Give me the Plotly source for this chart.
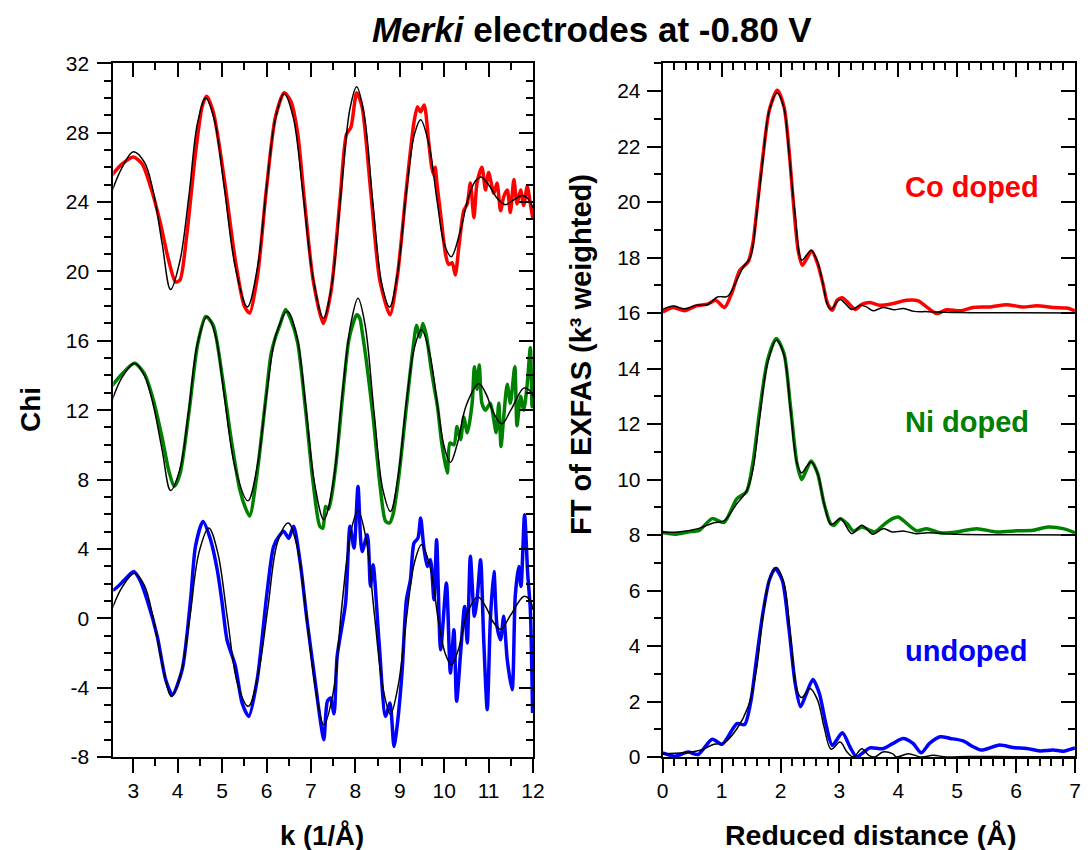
import plotly.graph_objects as go

# ---------------- Left panel: chi(k) ----------------
# Co doped (red) data and fit
k_co = [2.50, 2.75, 3.00, 3.20, 3.40, 3.60, 3.80, 3.95, 4.05, 4.20, 4.40, 4.55, 4.65, 4.80, 5.05, 5.30,
        5.50, 5.62, 5.80, 6.00, 6.20, 6.40, 6.55, 6.70, 6.85, 7.05, 7.28, 7.45, 7.65, 7.80, 7.90, 8.03,
        8.15, 8.35, 8.55, 8.78, 8.95, 9.15, 9.32, 9.40, 9.47, 9.55, 9.65, 9.72, 9.78, 9.80, 9.84, 9.92,
        10.03, 10.10, 10.18, 10.25, 10.33, 10.44, 10.52, 10.59, 10.67, 10.74, 10.85, 10.93, 11.00, 11.12,
        11.19, 11.27, 11.34, 11.42, 11.49, 11.57, 11.64, 11.72, 11.79, 11.87, 11.94, 12.00]
chi_co = [25.5, 26.2, 26.6, 26.2, 24.8, 22.9, 20.6, 19.4, 19.5, 22.0, 26.8, 29.5, 30.1, 29.2, 25.3, 20.6,
          18.0, 17.6, 19.8, 24.8, 28.9, 30.3, 29.8, 28.0, 24.2, 19.5, 17.0, 18.8, 24.0, 27.9, 28.3, 30.3,
          29.5, 24.5, 19.5, 17.5, 19.8, 24.8, 28.6, 29.5, 29.2, 29.6, 27.5, 26.0, 25.5, 26.0, 25.0, 23.3,
          21.0, 20.4, 20.5, 19.8, 21.4, 23.5, 23.9, 25.1, 23.1, 25.1, 26.0, 24.7, 25.7, 24.5,
          25.1, 23.5, 24.3, 24.7, 23.4, 25.3, 23.9, 24.7, 23.8, 24.9, 23.9, 23.0]
k_co_fit = [2.50, 2.75, 3.00, 3.25, 3.45, 3.65, 3.84, 4.05, 4.25, 4.45, 4.63, 4.82, 5.05, 5.30, 5.57, 5.80,
            6.00, 6.20, 6.40, 6.60, 6.82, 7.05, 7.28, 7.48, 7.68, 7.88, 8.03, 8.20, 8.40, 8.60, 8.77, 8.95,
            9.15, 9.33, 9.47, 9.65, 9.85, 10.00, 10.16, 10.35, 10.55, 10.70, 10.83, 11.00, 11.20, 11.38,
            11.55, 11.76, 11.90, 12.00]
chi_co_fit = [24.5, 26.0, 26.9, 26.3, 24.6, 21.6, 18.95, 20.6, 24.3, 28.6, 30.0, 28.8, 24.8, 20.2, 17.95, 20.3,
              24.8, 28.8, 30.25, 28.9, 24.5, 19.6, 17.3, 19.4, 24.6, 29.4, 30.65, 29.0, 23.8, 19.2, 17.95, 19.9,
              24.6, 27.9, 28.75, 27.4, 23.9, 21.6, 20.85, 22.2, 24.3, 25.2, 25.45, 25.0, 24.2, 23.85,
              24.1, 24.37, 24.15, 23.65]

# Ni doped (green) data and fit
k_ni = [2.50, 2.75, 3.03, 3.25, 3.45, 3.65, 3.80, 3.92, 4.05, 4.25, 4.45, 4.63, 4.80, 5.00, 5.20, 5.40,
        5.52, 5.62, 5.78, 5.98, 6.10, 6.20, 6.30, 6.43, 6.55, 6.70, 6.88, 7.05, 7.20, 7.27, 7.33, 7.40,
        7.55, 7.72, 7.85, 7.95, 8.03, 8.10, 8.16, 8.25, 8.40, 8.55, 8.68, 8.77, 8.85, 8.97, 9.15, 9.30,
        9.38, 9.45, 9.52, 9.60, 9.70, 9.77, 9.85, 9.95, 10.07, 10.13, 10.22, 10.29, 10.37, 10.44, 10.52,
        10.63, 10.68, 10.74, 10.79, 10.85, 10.93, 11.04, 11.12, 11.17, 11.23, 11.28, 11.34, 11.42, 11.49,
        11.59, 11.64, 11.72, 11.79, 11.87, 11.94, 11.98, 12.00]
chi_ni = [13.33, 14.1, 14.7, 14.1, 12.6, 10.4, 8.5, 7.6, 8.3, 11.8, 15.8, 17.4, 16.9, 14.0, 10.4, 7.4,
          6.4, 5.9, 8.2, 12.6, 15.2, 16.2, 16.9, 17.8, 17.2, 15.9, 12.0, 7.8, 5.3, 5.2, 6.45, 6.3,
          8.6, 13.0, 16.0, 17.0, 17.5, 17.3, 16.4, 14.8, 11.6, 7.8, 5.6, 5.5, 6.0, 8.0, 12.2, 15.6,
          16.9, 16.2, 17.0, 16.3, 14.5, 13.4, 12.2, 10.0, 8.37, 10.1, 10.0, 11.06, 10.3, 11.6, 10.7,
          12.4, 14.5, 13.2, 14.6, 12.4, 12.0, 12.4, 11.4, 10.7, 12.4, 9.9, 11.6, 13.5, 12.4,
          14.5, 11.1, 12.8, 12.0, 13.5, 15.6, 12.2, 12.8]
k_ni_fit = [2.50, 2.75, 3.03, 3.25, 3.45, 3.65, 3.84, 4.05, 4.25, 4.45, 4.67, 4.85, 5.05, 5.30, 5.58, 5.80,
            6.00, 6.22, 6.47, 6.68, 6.88, 7.08, 7.29, 7.50, 7.70, 7.90, 8.06, 8.22, 8.42, 8.62, 8.79, 8.97,
            9.15, 9.33, 9.49, 9.67, 9.87, 10.00, 10.14, 10.30, 10.50, 10.78, 10.95, 11.10, 11.30, 11.50,
            11.79, 11.92, 12.00]
chi_ni_fit = [12.4, 13.9, 14.7, 14.0, 12.3, 9.7, 7.37, 8.6, 12.0, 15.9, 17.4, 16.3, 12.8, 8.6, 6.77, 8.9,
              12.9, 16.4, 17.69, 16.3, 12.3, 7.8, 5.68, 7.8, 12.8, 17.0, 18.45, 16.9, 11.9, 7.4, 6.16, 8.3,
              12.5, 15.6, 16.63, 15.3, 11.9, 9.9, 8.98, 10.1, 12.3, 13.52, 12.9, 11.9, 11.21, 12.0,
              13.27, 13.15, 12.79]

# undoped (blue) data and fit
k_un = [2.50, 2.56, 2.80, 3.01, 3.15, 3.31, 3.54, 3.73, 3.88, 4.10, 4.29, 4.40, 4.57, 4.74, 4.89, 5.00,
        5.11, 5.30, 5.45, 5.60, 5.79, 6.01, 6.16, 6.30, 6.39, 6.50, 6.61, 6.76, 6.91, 7.06, 7.22, 7.29,
        7.37, 7.44, 7.52, 7.59, 7.78, 7.88, 7.97, 8.06, 8.15, 8.27, 8.34, 8.40, 8.53, 8.68, 8.78, 8.87,
        8.94, 9.05, 9.15, 9.24, 9.32, 9.41, 9.47, 9.54, 9.62, 9.69, 9.77, 9.83, 9.92, 10.05, 10.14,
        10.22, 10.28, 10.37, 10.46, 10.52, 10.59, 10.68, 10.74, 10.82, 10.89, 10.97, 11.04, 11.12,
        11.19, 11.27, 11.34, 11.42, 11.53, 11.60, 11.68, 11.73, 11.81, 11.88, 11.94, 11.99]
chi_un = [1.68, 1.64, 2.2, 2.7, 2.2, 1.07, -1.04, -3.54, -4.41, -2.97, 1.07, 4.14, 5.58, 4.53, 2.8, 0.9,
          -1.24, -2.77, -4.89, -5.66, -3.54, 1.45, 4.14, 4.8, 5.01, 4.62, 5.3, 3.18, -0.08, -2.97, -6.04, -7.0,
          -4.79, -4.6, -5.5, -2.2, 0.88, 5.3, 4.05, 7.6, 3.85, 4.81, 1.84, 3.09, -1.24, -5.66, -4.89, -7.39,
          -6.23, -3.16, 1.07, 2.22, 4.33, 4.62, 5.78, 4.14, 2.99, 3.37, 1.07, 4.53, -1.81, 2.03, -3.16,
          -0.66, -4.79, -2.0, 0.68, -1.43, 3.57, 0.11, 1.07, 3.37, -1.24, -5.27, -0.08, 2.7,
          -0.47, -1.24, 0.11, -2.39, -4.12, 1.26, 2.99, 1.84, 5.97, 2.6, 0.49, -5.46]
k_un_fit = [2.50, 2.75, 3.03, 3.25, 3.45, 3.65, 3.86, 4.07, 4.27, 4.48, 4.70, 4.90, 5.12, 5.35, 5.59, 5.82,
            6.03, 6.25, 6.49, 6.70, 6.90, 7.10, 7.29, 7.50, 7.70, 7.90, 8.06, 8.24, 8.43, 8.62, 8.79, 8.97,
            9.15, 9.33, 9.49, 9.68, 9.88, 10.02, 10.16, 10.32, 10.52, 10.76, 10.95, 11.10, 11.27, 11.50,
            11.79, 11.92, 12.00]
chi_un_fit = [0.39, 1.8, 2.6, 1.9, 0.0, -2.6, -4.51, -3.2, 0.0, 3.8, 5.2, 3.8, 0.0, -3.8, -5.08, -3.1,
              0.6, 4.4, 5.49, 4.0, 0.1, -4.0, -6.14, -4.3, 0.8, 5.0, 6.22, 4.6, 0.2, -4.0, -5.53, -3.8,
              0.0, 3.2, 4.24, 3.0, -0.3, -2.0, -2.68, -1.8, 0.3, 1.22, 0.6, -0.2, -0.63, 0.2,
              1.26, 1.1, 0.49]

# ---------------- Right panel: FT magnitude ----------------
r_co = [0.00, 0.18, 0.37, 0.57, 0.76, 0.90, 1.05, 1.17, 1.31, 1.45, 1.53, 1.61, 1.70, 1.81, 1.945, 2.06,
        2.14, 2.22, 2.30, 2.37, 2.46, 2.53, 2.63, 2.72, 2.80, 2.88, 2.96, 3.05, 3.16, 3.27, 3.38, 3.52,
        3.68, 3.90, 4.14, 4.34, 4.48, 4.65, 4.82, 5.05, 5.27, 5.55, 5.84, 6.12, 6.35, 6.63, 6.86, 7.00]
ft_co = [16.04, 16.2, 16.08, 16.26, 16.32, 16.46, 16.2, 16.7, 17.54, 17.84, 18.5, 19.95, 21.63, 23.31, 24.03, 23.43,
         21.99, 19.95, 18.26, 17.72, 18.02, 18.24, 17.78, 17.06, 16.34, 16.1, 16.46, 16.55, 16.34, 16.13, 16.31, 16.38,
         16.28, 16.34, 16.46, 16.44, 16.22, 15.98, 16.12, 16.08, 16.2, 16.22, 16.3, 16.22, 16.26, 16.2, 16.18, 16.08]
r_co_fit = [0.00, 0.18, 0.37, 0.57, 0.76, 0.93, 1.10, 1.23, 1.37, 1.49, 1.59, 1.70, 1.81, 1.945, 2.06, 2.14,
            2.24, 2.36, 2.44, 2.52, 2.63, 2.72, 2.79, 2.85, 3.01, 3.10, 3.21, 3.35, 3.46, 3.57, 3.74, 3.92,
            4.09, 4.27, 4.50, 5.00, 6.00, 7.00]
ft_co_fit = [16.13, 16.25, 16.15, 16.28, 16.3, 16.58, 16.6, 17.06, 17.66, 18.02, 19.46, 21.5, 23.31, 23.93, 23.37, 21.87,
             19.7, 17.9, 18.08, 18.26, 17.84, 17.06, 16.34, 16.13, 16.49, 16.34, 16.13, 16.28, 16.22, 16.08, 16.2, 16.12,
             16.16, 16.06, 16.05, 16.02, 16.01, 16.0]

r_ni = [0.00, 0.21, 0.43, 0.62, 0.84, 1.04, 1.26, 1.42, 1.53, 1.64, 1.78, 1.93, 2.06, 2.17, 2.28, 2.36,
        2.44, 2.52, 2.63, 2.74, 2.85, 2.91, 3.02, 3.13, 3.24, 3.38, 3.52, 3.60, 3.74, 3.90, 4.00, 4.31,
        4.48, 4.71, 4.99, 5.33, 5.67, 6.01, 6.29, 6.54, 6.80, 7.00]
ft_ni = [8.09, 8.03, 8.11, 8.17, 8.59, 8.45, 9.31, 9.55, 10.58, 12.38, 14.3, 15.08, 14.54, 12.62, 10.58, 10.0,
         10.34, 10.67, 10.22, 9.13, 8.41, 8.35, 8.59, 8.41, 8.14, 8.29, 8.17, 8.11, 8.35, 8.59, 8.65, 8.15,
         8.23, 8.08, 8.11, 8.23, 8.11, 8.15, 8.17, 8.29, 8.23, 8.08]
r_ni_fit = [0.00, 0.26, 0.60, 0.87, 1.04, 1.26, 1.43, 1.53, 1.64, 1.78, 1.93, 2.06, 2.17, 2.28, 2.36, 2.44,
            2.52, 2.63, 2.74, 2.86, 3.02, 3.21, 3.38, 3.57, 3.74, 3.90, 4.10, 4.30, 4.50, 5.00, 6.00, 7.00]
ft_ni_fit = [8.11, 8.11, 8.23, 8.44, 8.51, 9.13, 9.61, 10.34, 12.14, 14.18, 15.02, 14.48, 12.5, 10.58, 10.24, 10.46,
             10.63, 10.22, 9.13, 8.38, 8.59, 8.05, 8.35, 8.03, 8.23, 8.11, 8.14, 8.05, 8.08, 8.03, 8.01, 8.0]

r_un = [0.00, 0.21, 0.43, 0.60, 0.84, 1.01, 1.26, 1.39, 1.50, 1.59, 1.70, 1.81, 1.91, 2.03, 2.14, 2.25,
        2.34, 2.44, 2.55, 2.66, 2.77, 2.88, 3.05, 3.18, 3.29, 3.38, 3.52, 3.74, 3.91, 4.08, 4.25, 4.39,
        4.53, 4.71, 4.88, 5.10, 5.27, 5.41, 5.72, 5.95, 6.18, 6.40, 6.63, 6.80, 7.00]
ft_un = [0.15, 0.03, 0.18, 0.09, 0.64, 0.46, 1.2, 1.17, 2.05, 3.49, 5.17, 6.37, 6.79, 6.37, 4.69, 2.65,
         1.81, 2.29, 2.79, 2.29, 1.2, 0.42, 0.87, 0.36, 0.0, 0.12, 0.33, 0.3, 0.49, 0.67, 0.49, 0.15,
         0.49, 0.73, 0.67, 0.58, 0.37, 0.25, 0.43, 0.34, 0.31, 0.22, 0.25, 0.21, 0.33]
r_un_fit = [0.00, 0.37, 0.65, 0.87, 1.04, 1.26, 1.45, 1.59, 1.70, 1.81, 1.93, 2.06, 2.17, 2.28, 2.36, 2.50,
            2.63, 2.74, 2.86, 3.01, 3.13, 3.24, 3.38, 3.50, 3.60, 3.74, 3.90, 3.97, 4.17, 4.39, 4.59, 4.82,
            5.20, 6.00, 7.00]
ft_un_fit = [0.12, 0.15, 0.25, 0.46, 0.51, 1.02, 1.81, 3.13, 5.05, 6.37, 6.83, 6.25, 4.33, 2.41, 2.14, 2.47,
             2.05, 1.08, 0.28, 0.54, 0.18, 0.0, 0.3, 0.06, 0.0, 0.18, 0.12, 0.0, 0.12, 0.0, 0.06, 0.0,
             0.02, 0.01, 0.01]

left_yticks = [-8, -4, 0, 4, 8, 12, 16, 20, 24, 28, 32]
left_yticktext = ["-8", "-4", "0", "4", "8", "12", "16", "20", "24", "28", "32"]

RED, GREEN, BLUE = "#ff0000", "#008000", "#0000ff"
FONT = "Liberation Sans, Arial, sans-serif"

# page body has an 8px margin: the figure is sized so it ends at the window edge
OFF = 8
W, H = 1092 - OFF, 850 - OFF

def px(x):
    return (x - OFF) / W

def py(y):
    return 1 - (y - OFF) / H

fig = go.Figure()

def add_pair(xd, yd, xf, yf, color, xa, ya):
    fig.add_trace(go.Scatter(x=xd, y=yd, mode="lines", xaxis=xa, yaxis=ya,
                             line=dict(color=color, width=3.5, shape="spline", smoothing=0.7),
                             showlegend=False, hoverinfo="skip"))
    fig.add_trace(go.Scatter(x=xf, y=yf, mode="lines", xaxis=xa, yaxis=ya,
                             line=dict(color="black", width=1.5, shape="spline", smoothing=1.0),
                             showlegend=False, hoverinfo="skip"))

add_pair(k_co, chi_co, k_co_fit, chi_co_fit, RED, "x", "y")
add_pair(k_ni, chi_ni, k_ni_fit, chi_ni_fit, GREEN, "x", "y")
add_pair(k_un, chi_un, k_un_fit, chi_un_fit, BLUE, "x", "y")
add_pair(r_co, ft_co, r_co_fit, ft_co_fit, RED, "x2", "y2")
add_pair(r_ni, ft_ni, r_ni_fit, ft_ni_fit, GREEN, "x2", "y2")
add_pair(r_un, ft_un, r_un_fit, ft_un_fit, BLUE, "x2", "y2")

# dummy traces so the mirror axes (inside ticks) are drawn
for xa, ya in (("x3", "y3"), ("x4", "y4")):
    fig.add_trace(go.Scatter(x=[None], y=[None], xaxis=xa, yaxis=ya, showlegend=False, hoverinfo="skip"))

XL = [px(113.3), px(533.0)]
XR = [px(662.7), px(1075.0)]
YD = [py(757.0), py(63.3)]

tickfont = dict(family=FONT, size=21, color="black")
common = dict(showgrid=False, zeroline=False, showline=True, linecolor="black", linewidth=2,
              tickcolor="black", tickwidth=2, ticklen=14, tickfont=tickfont, automargin=False)

def minor(d, side):
    return dict(dtick=d, ticklen=7, tickwidth=2, tickcolor="black", ticks=side, showgrid=False)

fig.update_layout(
    width=W, height=H, autosize=False,
    margin=dict(l=0, r=0, t=0, b=0, pad=0, autoexpand=False),
    paper_bgcolor="white", plot_bgcolor="white",
    font=dict(family=FONT, color="black"),
    xaxis=dict(domain=XL, anchor="y", range=[2.55, 12.0], ticks="outside", dtick=1, tick0=0,
               minor=minor(0.5, "outside"), ticklabelstandoff=0, **common),
    yaxis=dict(domain=YD, anchor="x", range=[-8, 32], ticks="outside", tickmode="array",
               tickvals=left_yticks, ticktext=left_yticktext,
               minor=dict(tickmode="linear", tick0=0, dtick=1, ticklen=7, tickwidth=2, tickcolor="black",
                          ticks="outside", showgrid=False), ticklabelstandoff=4, **common),
    xaxis3=dict(overlaying="x", anchor="y3", side="top", range=[2.55, 12.0], ticks="inside", dtick=1, tick0=0,
                showticklabels=False, minor=minor(0.5, "inside"), **common),
    yaxis3=dict(overlaying="y", anchor="x3", side="right", range=[-8, 32], ticks="inside", dtick=4, tick0=0,
                showticklabels=False, minor=minor(1, "inside"), **common),
    xaxis2=dict(domain=XR, anchor="y2", range=[0, 7], ticks="outside", dtick=1, tick0=0,
                minor=minor(0.2, "outside"), ticklabelstandoff=0, **common),
    yaxis2=dict(domain=YD, anchor="x2", range=[0, 25], ticks="outside", dtick=2, tick0=0,
                minor=minor(1, "outside"), ticklabelstandoff=2, **common),
    xaxis4=dict(overlaying="x2", anchor="y4", side="top", range=[0, 7], ticks="inside", dtick=1, tick0=0,
                showticklabels=False, minor=minor(0.2, "inside"), **common),
    yaxis4=dict(overlaying="y2", anchor="x4", side="right", range=[0, 25], ticks="inside", dtick=2, tick0=0,
                showticklabels=False, minor=minor(1, "inside"), **common),
)

def ann(text, x, y, size, color="black", xanchor="center", angle=0):
    fig.add_annotation(text=text, x=px(x), y=py(y), xref="paper", yref="paper",
                       xanchor=xanchor, yanchor="middle", showarrow=False, textangle=angle,
                       font=dict(family=FONT, size=size, color=color))

ann("<b><i>Merki</i> electrodes at -0.80 V</b>", 592, 30, 35)
ann("<b>Chi</b>", 30, 410, 28, angle=-90)
ann("<b>FT of EXFAS (k³ weighted)</b>", 581, 355, 29, angle=-90)
ann("<b>k (1/Å)</b>", 322, 835, 27.5)
ann("<b>Reduced distance (Å)</b>", 870, 835, 28.5)
ann("<b>Co doped</b>", 903, 187, 29, RED, xanchor="left")
ann("<b>Ni doped</b>", 903, 422, 29, GREEN, xanchor="left")
ann("<b>undoped</b>", 903, 651, 29, BLUE, xanchor="left")

fig.write_html("out.html")
